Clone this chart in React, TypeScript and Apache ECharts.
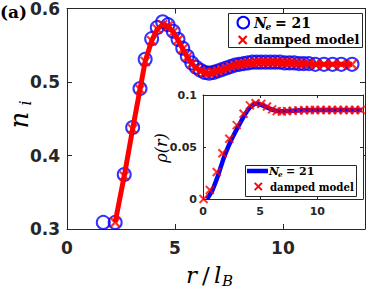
import React, { useEffect, useRef } from "react";
import * as echarts from "echarts";

// ---- main panel data: n_i versus r / l_B ----
const rMain = [1.68, 2.23, 2.65, 3.04, 3.38, 3.62, 3.92, 4.18, 4.43, 4.68, 4.92, 5.14, 5.36, 5.57, 5.78, 5.98, 6.18, 6.38, 6.58, 6.78, 6.98, 7.18, 7.38, 7.58, 7.78, 7.98, 8.18, 8.38, 8.58, 8.78, 8.98, 9.2, 9.42, 9.64, 9.86, 10.08, 10.3, 10.52, 10.74, 10.96, 11.2, 11.5, 11.9, 12.3, 12.7, 13.2];
const nNe21 = [0.309, 0.309, 0.374, 0.438, 0.491, 0.531, 0.559, 0.574, 0.582, 0.578, 0.569, 0.558, 0.546, 0.535, 0.526, 0.520, 0.516, 0.513, 0.512, 0.513, 0.515, 0.517, 0.519, 0.521, 0.523, 0.524, 0.525, 0.526, 0.527, 0.527, 0.527, 0.527, 0.527, 0.527, 0.527, 0.526, 0.526, 0.526, 0.525, 0.525, 0.525, 0.524, 0.524, 0.524, 0.524, 0.524];
const rDamped = [2.23, 2.65, 3.04, 3.38, 3.62, 3.92, 4.18, 4.43, 4.68, 4.92, 5.14, 5.36, 5.57, 5.78, 5.98, 6.18, 6.38, 6.58, 6.78, 6.98, 7.18, 7.38, 7.58, 7.78, 7.98, 8.18, 8.38, 8.58, 8.78, 8.98, 9.2, 9.42, 9.64, 9.86, 10.08, 10.3, 10.52, 10.74, 10.96, 11.2, 11.5, 11.9, 12.3, 12.7, 13.2];
const nDamped = [0.309, 0.372, 0.436, 0.490, 0.528, 0.556, 0.572, 0.578, 0.576, 0.568, 0.557, 0.545, 0.534, 0.525, 0.519, 0.515, 0.513, 0.512, 0.513, 0.515, 0.517, 0.519, 0.521, 0.523, 0.524, 0.525, 0.526, 0.526, 0.527, 0.527, 0.527, 0.527, 0.527, 0.527, 0.526, 0.526, 0.526, 0.525, 0.525, 0.525, 0.524, 0.524, 0.524, 0.524, 0.524];

// ---- inset data: rho(r) ----
const rhoNeR = [0.35, 0.8, 1.3, 1.8, 2.4, 3.0, 3.6, 4.1, 4.6, 5.1, 5.6, 6.1, 6.7, 7.5, 8.5, 10, 12, 13.9];
const rhoNe = [0, 0.008, 0.022, 0.039, 0.055, 0.068, 0.08, 0.088, 0.0915, 0.0905, 0.088, 0.0857, 0.0843, 0.0846, 0.0853, 0.0856, 0.0856, 0.0856];
const rhoDampedR = [0.05, 0.6, 1.2, 1.7, 2.3, 2.95, 3.55, 4.1, 4.6, 5.1, 5.6, 6.05, 6.45, 6.9, 7.35, 7.85, 8.35, 8.85, 9.35, 9.8, 10.3, 10.8, 11.3, 11.8, 12.3, 12.8, 13.3, 13.8];
const rhoDamped = [0, 0.0087, 0.026, 0.044, 0.058, 0.071, 0.082, 0.09, 0.092, 0.0915, 0.089, 0.0862, 0.0845, 0.0842, 0.0845, 0.0849, 0.0852, 0.0854, 0.0855, 0.0855, 0.0855, 0.0855, 0.0855, 0.0855, 0.0855, 0.0855, 0.0855, 0.0855];

// ---- axes ----
const mainXTicks = [0, 5, 10];
const mainYTicks = [0.3, 0.4, 0.5, 0.6];
const insetXTicks = [0, 5, 10];
const insetYTicks = [0, 0.05, 0.1];

const legendNe = "N";
const legendNeSub = "e";
const legendNeVal = "= 21";
const legendDamped = "damped model";

const AX = "#262626";
const BLUE = "#0000ff";
const RED = "#ff0000";
const XSYM = "path://M0 0L10 10M10 0L0 10";
const TICKFONT = "DejaVu Sans";
const SERIF = "DejaVu Serif";

const zip = (a: number[], b: number[]) => a.map((v, i) => [v, b[i]]);

function axisX(grid: number, pos: "bottom" | "top", min: number, max: number, labels: boolean, fs: number, margin: number, tickLen: number) {
  return {
    type: "value", gridIndex: grid, position: pos, min, max, interval: 5,
    axisLine: { show: true, onZero: false, lineStyle: { color: AX, width: 1 } },
    axisTick: { show: true, inside: true, length: tickLen, lineStyle: { color: AX } },
    splitLine: { show: false },
    axisLabel: { show: labels, color: "#262626", fontFamily: TICKFONT, fontWeight: "bold", fontSize: fs, margin, showMaxLabel: false },
  };
}
function axisY(grid: number, pos: "left" | "right", min: number, max: number, interval: number, labels: boolean, fs: number, margin: number, tickLen: number) {
  return {
    type: "value", gridIndex: grid, position: pos, min, max, interval,
    axisLine: { show: true, onZero: false, lineStyle: { color: AX, width: 1 } },
    axisTick: { show: true, inside: true, length: tickLen, lineStyle: { color: AX } },
    splitLine: { show: false },
    axisLabel: { show: labels, color: "#262626", fontFamily: TICKFONT, fontWeight: "bold", fontSize: fs, margin },
  };
}

function xMark(cx: number, cy: number, h: number, w: number) {
  return [
    { type: "line", shape: { x1: cx - h, y1: cy - h, x2: cx + h, y2: cy + h }, style: { stroke: RED, lineWidth: w }, z: 100 },
    { type: "line", shape: { x1: cx - h, y1: cy + h, x2: cx + h, y2: cy - h }, style: { stroke: RED, lineWidth: w }, z: 100 },
  ];
}

export default function App() {
  const ref = useRef<HTMLDivElement>(null);
  useEffect(() => {
    if (!ref.current) return;
    const chart = echarts.init(ref.current, null, { renderer: "svg" });
    const mainMinY = mainYTicks[0];
    const mainMaxY = mainYTicks[mainYTicks.length - 1];
    const option: any = {
      animation: false,
      backgroundColor: "#ffffff",
      grid: [
        { left: 67, top: 7, right: 9, bottom: 62, show: false },
        { left: 203, top: 95, right: 11, bottom: 92, show: true, backgroundColor: "#ffffff", borderWidth: 0, z: 5 },
      ],
      xAxis: [
        axisX(0, "bottom", mainXTicks[0], 13.8, true, 17, 10, 5),
        axisX(0, "top", mainXTicks[0], 13.8, false, 17, 10, 5),
        { ...axisX(1, "bottom", insetXTicks[0], 14, true, 11, 7, 3), z: 6 },
        { ...axisX(1, "top", insetXTicks[0], 14, false, 11, 7, 3), z: 6 },
      ],
      yAxis: [
        axisY(0, "left", mainMinY, mainMaxY, 0.1, true, 17, 7, 5),
        axisY(0, "right", mainMinY, mainMaxY, 0.1, false, 17, 7, 5),
        { ...axisY(1, "left", insetYTicks[0], insetYTicks[2], 0.05, true, 11, 6, 3), z: 6 },
        { ...axisY(1, "right", insetYTicks[0], insetYTicks[2], 0.05, false, 11, 6, 3), z: 6 },
      ],
      series: [
        {
          name: "Ne21", type: "scatter", xAxisIndex: 0, yAxisIndex: 0,
          data: zip(rMain, nNe21), symbol: "circle", symbolSize: 13,
          itemStyle: { color: "rgba(0,0,0,0)", borderColor: BLUE, borderWidth: 2 }, z: 2,
        },
        {
          name: "damped line", type: "line", xAxisIndex: 0, yAxisIndex: 0,
          data: zip(rDamped, nDamped), showSymbol: false, symbol: "none",
          lineStyle: { color: RED, width: 5 }, z: 3,
        },
        {
          name: "damped", type: "scatter", xAxisIndex: 0, yAxisIndex: 0,
          data: zip(rDamped, nDamped), symbol: XSYM, symbolSize: 9,
          itemStyle: { color: "rgba(0,0,0,0)", borderColor: RED, borderWidth: 2.2 }, z: 4,
        },
        {
          name: "rho Ne21", type: "line", xAxisIndex: 2, yAxisIndex: 2,
          data: zip(rhoNeR, rhoNe), showSymbol: false, symbol: "none", smooth: 0.2,
          lineStyle: { color: BLUE, width: 4.5 }, z: 7,
        },
        {
          name: "rho damped", type: "scatter", xAxisIndex: 2, yAxisIndex: 2,
          data: zip(rhoDampedR, rhoDamped), symbol: XSYM, symbolSize: 8,
          itemStyle: { color: "rgba(0,0,0,0)", borderColor: RED, borderWidth: 2 }, z: 8,
        },
      ],
      graphic: [
        // panel tag
        { type: "text", x: 0, y: 12, style: { text: "(a)", font: `bold 17px '${SERIF}'`, fill: "#000", textVerticalAlign: "middle" } },
        // y label n_i (rotated, reading upwards)
        {
          type: "group", x: 19, y: 114, rotation: Math.PI / 2,
          children: [
            { type: "text", x: -6, y: 0, style: { text: "n", font: `italic 26px '${SERIF}'`, fill: "#000", textAlign: "center", textVerticalAlign: "middle" } },
            { type: "text", x: 11, y: 6, style: { text: "i", font: `italic 16px '${SERIF}'`, fill: "#000", textAlign: "center", textVerticalAlign: "middle" } },
          ],
        },
        // x label r/l_B
        { type: "text", x: 186, y: 275, style: { text: "r", font: `italic 23px '${SERIF}'`, fill: "#000", textVerticalAlign: "middle" } },
        { type: "text", x: 202, y: 275, style: { text: "/", font: `23px '${SERIF}'`, fill: "#000", textVerticalAlign: "middle" } },
        { type: "text", x: 214, y: 275, style: { text: "l", font: `italic 23px '${SERIF}'`, fill: "#000", textVerticalAlign: "middle" } },
        { type: "text", x: 222, y: 281, style: { text: "B", font: `italic 15px '${SERIF}'`, fill: "#000", textVerticalAlign: "middle" } },
        // inset y label rho(r)
        { type: "text", x: 161, y: 148, rotation: Math.PI / 2, style: { text: "ρ(r)", font: `italic 16px '${SERIF}'`, fill: "#000", textAlign: "center", textVerticalAlign: "middle" } },
        // main legend
        { type: "rect", shape: { x: 228.5, y: 13.5, width: 134, height: 34 }, style: { fill: "#fff", stroke: AX, lineWidth: 1 }, z: 90 },
        { type: "circle", shape: { cx: 243.3, cy: 22.7, r: 5.8 }, style: { fill: "none", stroke: BLUE, lineWidth: 2 }, z: 100 },
        { type: "text", x: 254, y: 22.7, style: { text: legendNe, font: `bold italic 14px '${SERIF}'`, fill: "#000", textVerticalAlign: "middle" }, z: 100 },
        { type: "text", x: 265.5, y: 27, style: { text: legendNeSub, font: `bold italic 9px '${SERIF}'`, fill: "#000", textVerticalAlign: "middle" }, z: 100 },
        { type: "text", x: 275, y: 22.7, style: { text: legendNeVal, font: `bold 14px '${SERIF}'`, fill: "#000", textVerticalAlign: "middle" }, z: 100 },
        ...xMark(242.7, 40, 4, 2.2),
        { type: "text", x: 254, y: 39.5, style: { text: legendDamped, font: `bold 12.8px '${SERIF}'`, fill: "#000", textVerticalAlign: "middle" }, z: 100 },
        // inset legend
        { type: "rect", shape: { x: 245.5, y: 165.5, width: 111, height: 31 }, style: { fill: "#fff", stroke: AX, lineWidth: 1 }, z: 90 },
        { type: "line", shape: { x1: 247, y1: 171, x2: 268, y2: 171 }, style: { stroke: BLUE, lineWidth: 4.5 }, z: 100 },
        { type: "text", x: 269, y: 171, style: { text: legendNe, font: `bold italic 11px '${SERIF}'`, fill: "#000", textVerticalAlign: "middle" }, z: 100 },
        { type: "text", x: 278, y: 174.5, style: { text: legendNeSub, font: `bold italic 7px '${SERIF}'`, fill: "#000", textVerticalAlign: "middle" }, z: 100 },
        { type: "text", x: 286, y: 171, style: { text: legendNeVal, font: `bold 11px '${SERIF}'`, fill: "#000", textVerticalAlign: "middle" }, z: 100 },
        ...xMark(258.3, 186.5, 3.6, 2),
        { type: "text", x: 270, y: 186.5, style: { text: legendDamped, font: `bold 10.2px '${SERIF}'`, fill: "#000", textVerticalAlign: "middle" }, z: 100 },
      ],
    };
    chart.setOption(option);
    return () => chart.dispose();
  }, []);
  return <div ref={ref} style={{ width: 374, height: 291, position: "absolute", left: 0, top: 0 }} />;
}
